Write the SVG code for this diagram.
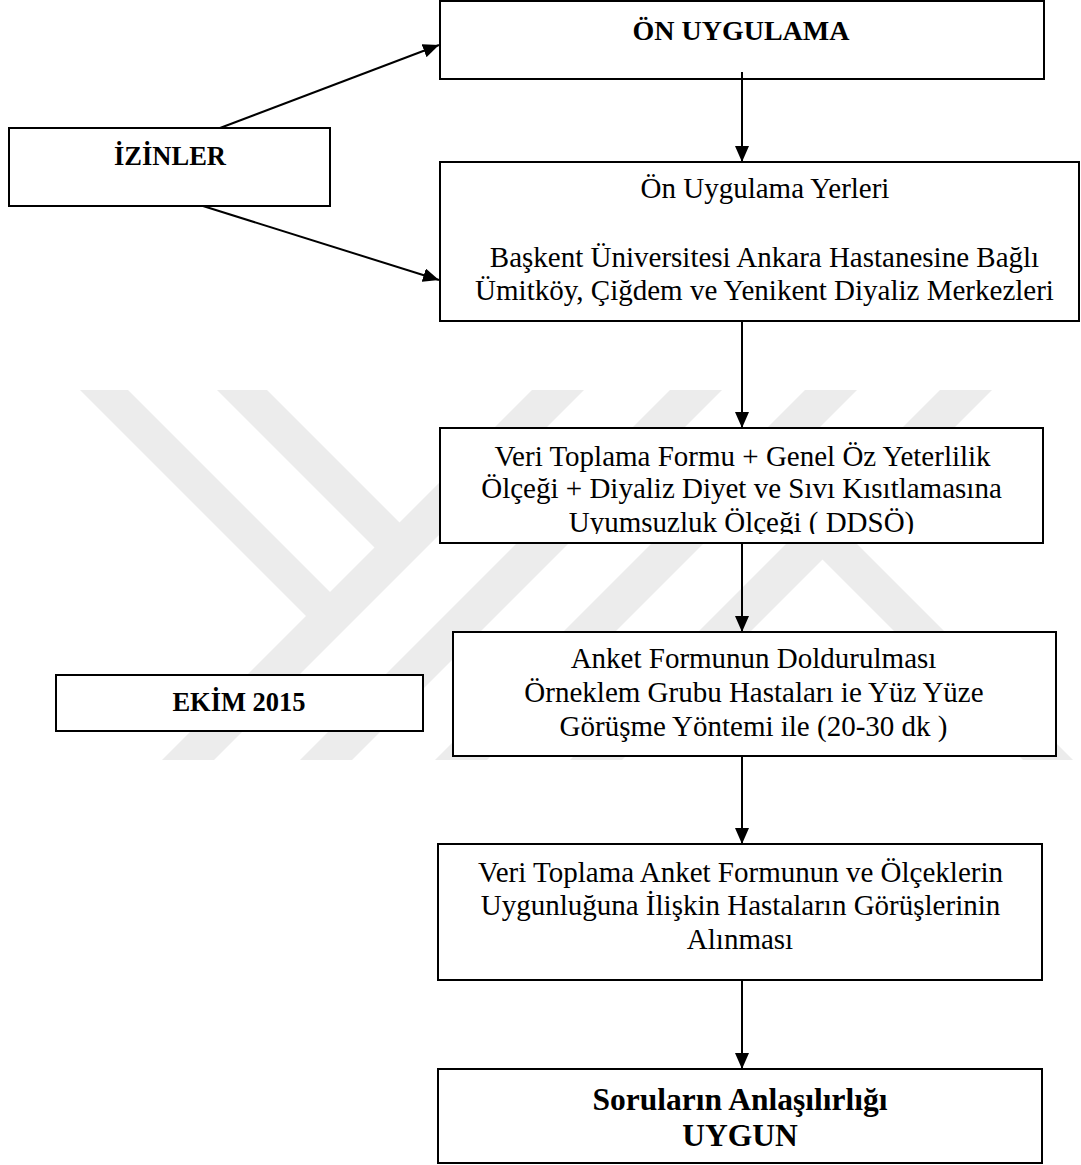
<svg xmlns="http://www.w3.org/2000/svg" width="1081" height="1165" viewBox="0 0 1081 1165">
<style>
.box{fill:#fff;stroke:#000;stroke-width:2}
.t{font-family:"Liberation Serif","Times New Roman",serif;font-size:29px;fill:#000;text-anchor:middle}
.b{font-family:"Liberation Serif","Times New Roman",serif;font-weight:bold;fill:#000;text-anchor:middle}
.c{stroke:#000;stroke-width:2;fill:none;marker-end:url(#ah)}
.wm{fill:#ececec}
</style>
<defs>
<marker id="ah" markerUnits="userSpaceOnUse" markerWidth="16" markerHeight="14" refX="16" refY="7" orient="auto">
<path d="M0,0 L16,7 L0,14 z" fill="#000"/>
</marker>
<clipPath id="clip3"><rect x="440" y="428" width="603" height="106"/></clipPath>
</defs>
<rect width="1081" height="1165" fill="#fff"/>
<g id="watermark">
<polygon class="wm" points="532,390 584,390 214,760 162,760"/>
<polygon class="wm" points="80,390 128,390 340,602 316,626"/>
<polygon class="wm" points="217,390 267,390 410,533 385,558"/>
<polygon class="wm" points="670,390 722,390 352,760 300,760"/>
<polygon class="wm" points="805,390 857,390 487,760 435,760"/>
<polygon class="wm" points="940,390 992,390 622,760 570,760"/>
<polygon class="wm" points="834,521 1073,760 1023,760 809,546"/>
</g>
<g id="node-on-uygulama">
<rect class="box" x="440" y="1" width="604" height="78"/>
<text class="b" x="741" y="40" font-size="28">ÖN UYGULAMA</text>
</g>
<g id="node-izinler">
<rect class="box" x="9" y="128" width="321" height="78"/>
<text class="b" x="170" y="165" font-size="26.5">İZİNLER</text>
</g>
<g id="node-yerler">
<rect class="box" x="440" y="162" width="639" height="159"/>
<text class="t" x="765" y="198">Ön Uygulama Yerleri</text>
<text class="t" x="764.5" y="267">Başkent Üniversitesi Ankara Hastanesine Bağlı</text>
<text class="t" x="764.5" y="300">Ümitköy, Çiğdem ve Yenikent Diyaliz Merkezleri</text>
</g>
<g id="node-formlar">
<rect class="box" x="440" y="428" width="603" height="115"/>
<g clip-path="url(#clip3)">
<text class="t" x="742.5" y="466">Veri Toplama Formu + Genel Öz Yeterlilik</text>
<text class="t" x="741.5" y="498">Ölçeği + Diyaliz Diyet ve Sıvı Kısıtlamasına</text>
<text class="t" x="741.5" y="532">Uyumsuzluk Ölçeği ( DDSÖ)</text>
</g>
</g>
<g id="node-anket">
<rect class="box" x="453" y="632" width="603" height="124"/>
<text class="t" x="753.5" y="668">Anket Formunun Doldurulması</text>
<text class="t" x="754" y="702">Örneklem Grubu Hastaları ie Yüz Yüze</text>
<text class="t" x="753.5" y="736">Görüşme Yöntemi ile (20-30 dk )</text>
</g>
<g id="node-ekim">
<rect class="box" x="56" y="675" width="367" height="56"/>
<text class="b" x="239" y="711" font-size="26.5">EKİM 2015</text>
</g>
<g id="node-gorusler">
<rect class="box" x="438" y="844" width="604" height="136"/>
<text class="t" x="740.5" y="882">Veri Toplama Anket Formunun ve Ölçeklerin</text>
<text class="t" x="740.5" y="915">Uygunluğuna İlişkin Hastaların Görüşlerinin</text>
<text class="t" x="740" y="949">Alınması</text>
</g>
<g id="node-sonuc">
<rect class="box" x="438" y="1069" width="604" height="94"/>
<text class="b" x="740" y="1110" font-size="31.5">Soruların Anlaşılırlığı</text>
<text class="b" x="740" y="1146" font-size="31.5">UYGUN</text>
</g>
<g id="connectors">
<line class="c" x1="742" y1="72" x2="742" y2="162"/>
<line class="c" x1="742" y1="321" x2="742" y2="428"/>
<line class="c" x1="742" y1="543" x2="742" y2="632"/>
<line class="c" x1="742" y1="756" x2="742" y2="844"/>
<line class="c" x1="742" y1="980" x2="742" y2="1069"/>
<line class="c" x1="220" y1="128" x2="439" y2="45"/>
<line class="c" x1="203" y1="206" x2="439" y2="280"/>
</g>
</svg>
